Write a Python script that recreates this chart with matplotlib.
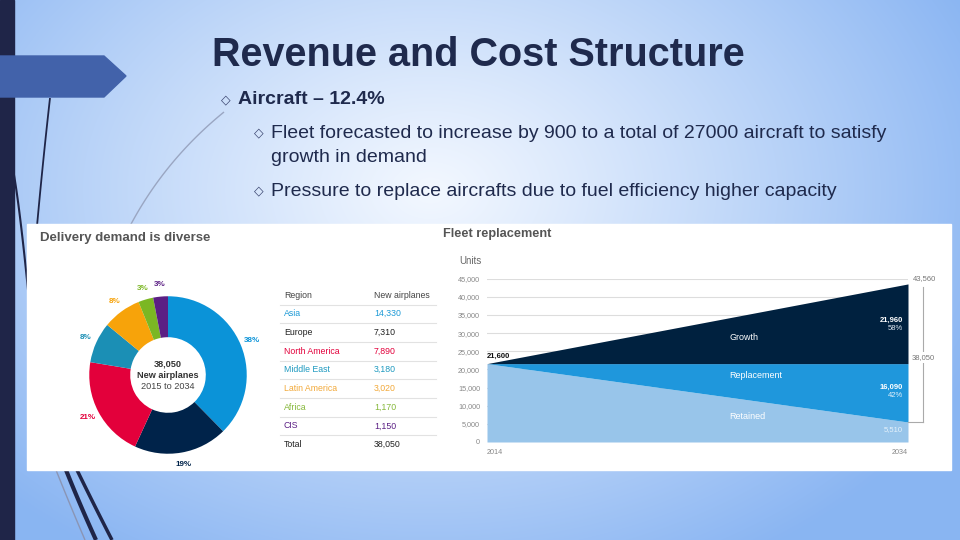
import numpy as np
import matplotlib.pyplot as plt
from matplotlib.patches import Rectangle, Polygon
import matplotlib.transforms as mtransforms

plt.rcParams['font.family'] = ['Liberation Sans', 'DejaVu Sans']

# delivery demand by region, 2015 to 2034
regions = ['Asia', 'Europe', 'North America', 'Middle East', 'Latin America', 'Africa', 'CIS']
new_airplanes = [14330, 7310, 7890, 3180, 3020, 1170, 1150]
total_new = 38050
region_colors = ['#0b93d8', '#00234a', '#e3003b', '#1b8fb5', '#f7a30a', '#7bb723', '#5b1f84']
table_colors = ['#1d9ad6', '#222222', '#e3003b', '#1f9ac0', '#f2a93a', '#86b83a', '#5b1f84']

# fleet replacement
years = [2014, 2034]
fleet_total = [21600, 43560]
fleet_base = [21600, 21600]
retained = [21600, 5510]
growth_units = 21960
replacement_units = 16090

W, H = 960, 540
fig = plt.figure(figsize=(9.6, 5.4), dpi=100)


def box(x0, y0, x1, y1):
    # pixel box (top-left origin) -> figure fraction
    return [x0 / W, 1 - y1 / H, (x1 - x0) / W, (y1 - y0) / H]


def curve(ax, p0, p1, p2, **kw):
    t = np.linspace(0, 1, 60)[:, None]
    pts = (1 - t) ** 2 * np.array(p0) + 2 * (1 - t) * t * np.array(p1) + t ** 2 * np.array(p2)
    ax.plot(pts[:, 0], pts[:, 1], solid_capstyle='butt', **kw)


# slide background
bg = fig.add_axes([0, 0, 1, 1])
yy, xx = np.mgrid[0:H, 0:W]
d = np.sqrt(((xx - 430) / 600.0) ** 2 + ((yy - 190) / 430.0) ** 2)
d = np.clip(d, 0, 1) ** 1.1
c0 = np.array([0.95, 0.97, 1.0])
c1 = np.array([0.54, 0.71, 0.95])
bg.imshow(c0 + (c1 - c0) * d[..., None], extent=[0, W, H, 0], aspect='auto', zorder=0)
bg.set_xlim(0, W)
bg.set_ylim(H, 0)
bg.axis('off')

bg.add_patch(Rectangle((0, 0), 14, H, color='#1f2548', zorder=1))
curve(bg, (50, 98), (43, 160), (37, 226), color='#1f2548', lw=1.3, zorder=1)
curve(bg, (14, 175), (20, 210), (28, 290), color='#1f2548', lw=1.5, zorder=1)
curve(bg, (224, 112), (165, 160), (130, 226), color='#9aa6c2', lw=1, zorder=1)
curve(bg, (56, 470), (70, 505), (85, 540), color='#8a95b5', lw=1, zorder=1)
curve(bg, (66, 470), (80, 505), (96, 540), color='#1f2548', lw=3, zorder=1)
curve(bg, (77, 470), (94, 505), (112, 540), color='#1f2548', lw=2.5, zorder=1)
bg.add_patch(Polygon([(0, 56), (104, 56), (126, 76), (104, 97), (0, 97)], color='#4262aa', zorder=2))
bg.add_patch(Rectangle((27, 224), 924, 246, color='white', zorder=3))

navy = '#1f2a4d'
bg.text(212, 55, 'Revenue and Cost Structure', fontsize=28.5, fontweight='bold', color=navy, va='center')
bg.text(226, 100, '◇', family=['DejaVu Sans'], fontsize=9, color='#3a4570', ha='center', va='center')
bg.text(238, 100, 'Aircraft – 12.4%', fontsize=14, fontweight='bold', color=navy, va='center')
for yb in [133, 191]:
    bg.text(259, yb, '◇', family=['DejaVu Sans'], fontsize=9, color='#3a4570', ha='center', va='center')
bg.text(271, 133, 'Fleet forecasted to increase by 900 to a total of 27000 aircraft to satisfy',
        fontsize=14, color=navy, va='center')
bg.text(271, 157, 'growth in demand', fontsize=14, color=navy, va='center')
bg.text(271, 191, 'Pressure to replace aircrafts due to fuel efficiency higher capacity',
        fontsize=14, color=navy, va='center')

# left image: donut + table
bg.text(40, 238, 'Delivery demand is diverse', fontsize=9.5, fontweight='bold', color='#555555',
        va='center', zorder=4)

ax1 = fig.add_axes(box(68, 275, 268, 475))
wedges, _ = ax1.pie(new_airplanes, colors=region_colors, startangle=90, counterclock=False,
                    radius=1, wedgeprops=dict(width=0.52, edgecolor='none'))
ax1.set_xlim(-1.27, 1.27)
ax1.set_ylim(-1.27, 1.27)
ax1.set_aspect('equal')
ax1.axis('off')
for w, v, c in zip(wedges, new_airplanes, region_colors):
    ang = np.deg2rad((w.theta1 + w.theta2) / 2)
    ax1.text(1.15 * np.cos(ang), 1.15 * np.sin(ang), f'{round(v / total_new * 100)}%',
             fontsize=5.8, fontweight='bold', color=c, ha='center', va='center')
ax1.text(0, 0.14, f'{total_new:,}', fontsize=6.6, fontweight='bold', color='#333333', ha='center', va='center')
ax1.text(0, 0.0, 'New airplanes', fontsize=6.6, fontweight='bold', color='#333333', ha='center', va='center')
ax1.text(0, -0.14, '2015 to 2034', fontsize=6.6, color='#444444', ha='center', va='center')

row_h = 18.7
bg.text(284, 295, 'Region', fontsize=6.3, color='#444444', va='center', zorder=4)
bg.text(374, 295, 'New airplanes', fontsize=6.3, color='#444444', va='center', zorder=4)
bg.plot([280, 436], [305, 305], color='#e2e2e2', lw=0.8, zorder=4)
for i, (r, v, c) in enumerate(zip(regions, new_airplanes, table_colors)):
    y = 295 + (i + 1) * row_h
    bg.text(284, y, r, fontsize=6.3, color=c, va='center', zorder=4)
    bg.text(374, y, f'{v:,}', fontsize=6.3, color=c, va='center', zorder=4)
    bg.plot([280, 436], [y + 9.5, y + 9.5], color='#e2e2e2', lw=0.8, zorder=4)
y = 295 + (len(regions) + 1) * row_h
bg.text(284, y, 'Total', fontsize=6.3, color='#222222', va='center', zorder=4)
bg.text(374, y, f'{total_new:,}', fontsize=6.3, color='#222222', va='center', zorder=4)

# right image: fleet replacement
bg.text(443, 234, 'Fleet replacement', fontsize=9.2, fontweight='bold', color='#555555', va='center', zorder=4)
bg.text(459, 261, 'Units', fontsize=7, color='#666666', va='center', zorder=4)

ax2 = fig.add_axes(box(487, 278.7, 908, 442))
ax2.fill_between(years, 0, retained, color='#98c5ea', lw=0)
ax2.fill_between(years, retained, fleet_base, color='#1f97dc', lw=0)
ax2.fill_between(years, fleet_base, fleet_total, color='#00213f', lw=0)
ax2.set_xlim(years[0], years[-1])
ax2.set_ylim(0, 45000)
ax2.set_yticks(range(0, 45001, 5000))
ax2.set_yticklabels([f'{v:,}' for v in range(0, 45001, 5000)])
ax2.set_xticks(years)
ax2.set_xticklabels([str(yr) for yr in years])
ax2.get_xticklabels()[0].set_ha('left')
ax2.get_xticklabels()[-1].set_ha('right')
ax2.tick_params(length=0, labelsize=5.2, labelcolor='#888888', pad=5)
ax2.grid(axis='y', color='#dddddd', lw=0.8)
ax2.set_axisbelow(True)
for s in ax2.spines.values():
    s.set_visible(False)

ax2.annotate(f'{fleet_total[0]:,}', xy=(years[0], fleet_total[0]), xytext=(0, 3),
             textcoords='offset points', fontsize=5.5, fontweight='bold', color='#111111',
             ha='left', va='bottom')
ax2.text(2025.5, 28660, 'Growth', fontsize=6.5, color='white', va='center')
ax2.text(2025.5, 18190, 'Replacement', fontsize=6.5, color='white', va='center')
ax2.text(2025.5, 6890, 'Retained', fontsize=6.5, color='white', va='center')

growth_pct = round(growth_units / total_new * 100)
repl_pct = round(replacement_units / total_new * 100)
ax2.text(2033.75, 33620, f'{growth_units:,}', fontsize=5.5, fontweight='bold', color='white', ha='right', va='center')
ax2.text(2033.75, 31410, f'{growth_pct}%', fontsize=5.5, color='#dde6f0', ha='right', va='center')
ax2.text(2033.75, 15160, f'{replacement_units:,}', fontsize=5.5, fontweight='bold', color='white', ha='right', va='center')
ax2.text(2033.75, 12680, f'{repl_pct}%', fontsize=5.5, color='#e0f0fb', ha='right', va='center')
ax2.text(2033.75, 3310, f'{retained[-1]:,}', fontsize=5.5, color='#e6f2fb', ha='right', va='center')

tr = mtransforms.blended_transform_factory(ax2.transAxes, ax2.transData)
bx = 1.036
ax2.plot([bx, bx], [retained[-1], fleet_total[-1] - 800], color='#aaaaaa', lw=0.8, transform=tr, clip_on=False)
ax2.plot([1.0, bx], [retained[-1], retained[-1]], color='#aaaaaa', lw=0.8, transform=tr, clip_on=False)
ax2.text(bx + 0.004, fleet_total[-1] + 1600, f'{fleet_total[-1]:,}', fontsize=5.5, color='#777777',
         ha='center', va='center', transform=tr)
ax2.text(bx, 23300, f'{total_new:,}', fontsize=5.5, color='#777777', ha='center', va='center', transform=tr,
         bbox=dict(facecolor='white', edgecolor='none', pad=1.5))

fig.savefig('out.png', dpi=100)
